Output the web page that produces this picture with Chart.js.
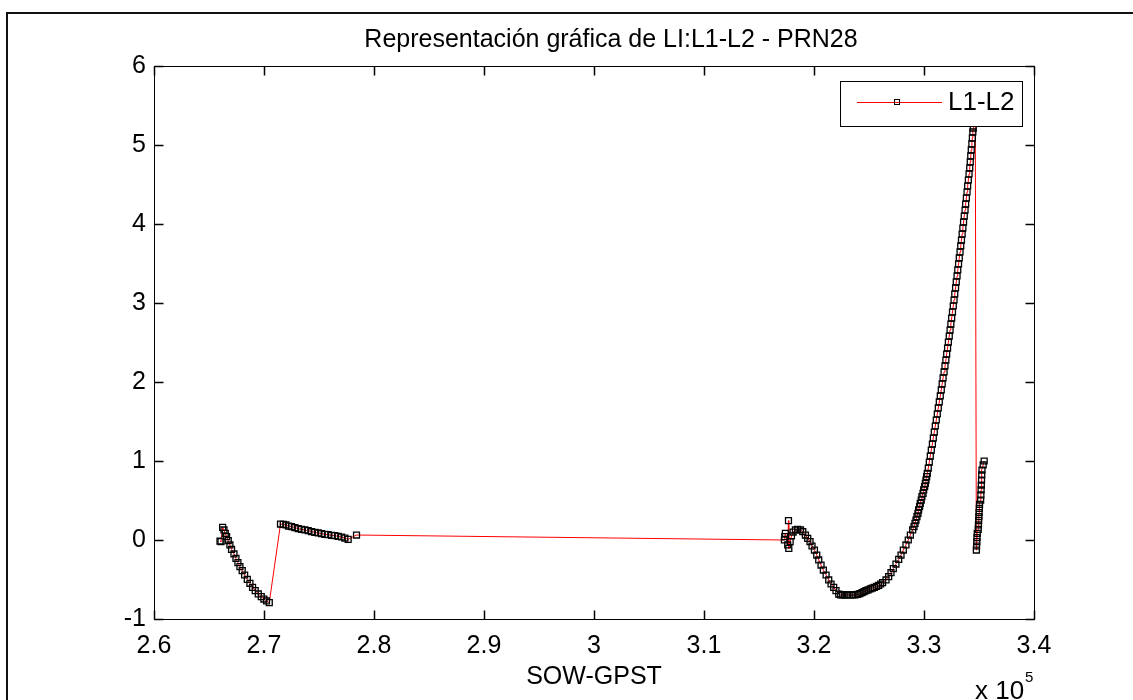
<!DOCTYPE html>
<html>
<head>
<meta charset="utf-8">
<title>LI:L1-L2 - PRN28</title>
<script src="https://cdn.jsdelivr.net/npm/chart.js@4.4.0/dist/chart.umd.min.js"></script>
<style>
  html, body { margin: 0; padding: 0; background: #fff; }
</style>
</head>
<body>
<canvas id="grafico" width="1133" height="700"></canvas>
<script>
const titulo = "Representación gráfica de LI:L1-L2 - PRN28";
const etiquetaX = "SOW-GPST";
const nombreSerie = "L1-L2";
const fuente = '"Liberation Sans", Arial, sans-serif';

// ticks (x en segundos, se muestran en unidades de 10^5)
const xTicks = [260000, 270000, 280000, 290000, 300000, 310000, 320000, 330000, 340000];
const yTicks = [-1, 0, 1, 2, 3, 4, 5, 6];

// arco 1
const arco1Sow = [266000, 266090, 266240, 266360, 266480, 266600, 266750, 266900, 267050, 267270, 267450, 267630,
    267810, 268020, 268240, 268480, 268720, 268960, 269200, 269480, 269750, 269990, 270230, 270480];
const arco1Li = [-0.013, -0.021, 0.160, 0.127, 0.084, 0.042, -0.008, -0.063, -0.118, -0.177, -0.232, -0.287,
    -0.337, -0.388, -0.443, -0.498, -0.548, -0.599, -0.641, -0.683, -0.717, -0.747, -0.772, -0.793];

// arco 2
const arco2Sow = [271500, 271750, 271990, 272230, 272500, 272810, 273110, 273410, 273720, 274020, 274320, 274620,
    274930, 275230, 275530, 275830, 276140, 276440, 276740, 277050, 277350, 277650, 278410];
const arco2Li = [0.202, 0.198, 0.190, 0.177, 0.169, 0.156, 0.143, 0.135, 0.127, 0.118, 0.105, 0.097,
    0.089, 0.080, 0.072, 0.068, 0.059, 0.055, 0.046, 0.038, 0.025, 0.008, 0.063];

// arco 3 (tramo bajo)
const arco3Sow = [317310, 317340, 317400, 317610, 317680, 317710, 317830, 317950, 318100, 318310, 318520, 318770,
    318980, 319220, 319430, 319640, 319820, 320040, 320250, 320430, 320640, 320850, 321100, 321340,
    321550, 321790, 322000, 322250, 322430, 322610, 322820, 323060, 323270, 323520, 323730, 323970,
    324170, 324370, 324550, 324730, 324920, 325120, 325300, 325490, 325690, 325880, 326060, 326240,
    326550, 326790, 327000, 327210, 327450, 327700, 327910, 328120, 328360, 328570, 328760, 328970,
    329090, 329180, 329270, 329360, 329450, 329510, 329600, 329660, 329750, 329810, 329910, 329970,
    330060, 330120, 330180, 330240, 330300];
const arco3Li = [0.000, 0.042, 0.084, -0.063, 0.245, -0.106, -0.021, 0.051, 0.101, 0.127, 0.135, 0.127,
    0.105, 0.063, 0.021, -0.021, -0.076, -0.127, -0.190, -0.253, -0.317, -0.380, -0.443, -0.506,
    -0.557, -0.599, -0.641, -0.684, -0.696, -0.696, -0.696, -0.696, -0.696, -0.696, -0.696, -0.688,
    -0.678, -0.667, -0.654, -0.641, -0.631, -0.620, -0.610, -0.599, -0.587, -0.574, -0.557, -0.540,
    -0.506, -0.464, -0.414, -0.363, -0.304, -0.245, -0.190, -0.127, -0.063, 0.000, 0.063, 0.127,
    0.169, 0.211, 0.253, 0.295, 0.338, 0.380, 0.422, 0.464, 0.506, 0.549, 0.591, 0.633,
    0.675, 0.717, 0.759, 0.802, 0.844];

// arco 3 (subida)
const arco3bSow = [330390, 330481, 330572, 330663, 330763, 330844, 330935, 331026, 331117, 331208, 331298, 331389,
    331480, 331571, 331653, 331734, 331825, 331907, 331989, 332061, 332143, 332216, 332297, 332370,
    332443, 332515, 332588, 332661, 332733, 332797, 332870, 332933, 333006, 333070, 333142, 333206,
    333278, 333342, 333406, 333469, 333533, 333596, 333660, 333733, 333787, 333851, 333914, 333969,
    334032, 334096, 334159, 334205, 334250, 334296, 334350, 334396, 334441, 334477, 334570, 334660];
const arco3bLi = [0.911, 0.987, 1.063, 1.139, 1.215, 1.291, 1.367, 1.443, 1.519, 1.595, 1.671, 1.747,
    1.823, 1.899, 1.975, 2.051, 2.127, 2.203, 2.278, 2.354, 2.430, 2.506, 2.582, 2.658,
    2.734, 2.810, 2.886, 2.962, 3.038, 3.114, 3.190, 3.266, 3.342, 3.418, 3.494, 3.570,
    3.646, 3.722, 3.797, 3.873, 3.949, 4.025, 4.101, 4.177, 4.253, 4.329, 4.405, 4.481,
    4.557, 4.633, 4.709, 4.785, 4.861, 4.937, 5.013, 5.089, 5.165, 5.215, 5.300, 5.420];

// arco 4
const arco4Sow = [334760, 334780, 334800, 334820, 334840, 334930, 334950, 334970, 334990, 335010, 335030, 335050,
    335150, 335170, 335190, 335210, 335230, 335250, 335270, 335380, 335470];
const arco4Li = [-0.127, -0.076, -0.021, 0.030, 0.084, 0.135, 0.190, 0.245, 0.295, 0.346, 0.401, 0.452,
    0.506, 0.570, 0.633, 0.696, 0.759, 0.823, 0.886, 0.950, 1.000];

const arcos = [
    [arco1Sow, arco1Li],
    [arco2Sow, arco2Li],
    [arco3Sow, arco3Li],
    [arco3bSow, arco3bLi],
    [arco4Sow, arco4Li],
];

const puntos = [];
for (const [sow, li] of arcos) {
    const n = Math.min(sow.length, li.length);
    for (let i = 0; i < n; i++) {
        puntos.push({ x: sow[i], y: li[i] });
    }
}

// Dibuja la caja de ejes, las marcas, los textos y la leyenda al estilo MATLAB
const marco = {
    id: 'marco',
    afterDraw(chart) {
        const c = chart.ctx;
        const a = chart.chartArea;
        const sx = chart.scales.x;
        const sy = chart.scales.y;
        c.save();

        c.strokeStyle = '#000';
        c.lineWidth = 1;
        const l = Math.round(a.left) + 0.5, t = Math.round(a.top) + 0.5;
        const r = Math.round(a.right) + 0.5, b = Math.round(a.bottom) + 0.5;
        c.strokeRect(l, t, r - l, b - t);

        c.lineWidth = 1.5;
        c.beginPath();
        for (const v of xTicks) {
            const p = Math.round(sx.getPixelForValue(v)) + 0.5;
            c.moveTo(p, b); c.lineTo(p, b - 9);
            c.moveTo(p, t); c.lineTo(p, t + 9);
        }
        for (const v of yTicks) {
            const p = Math.round(sy.getPixelForValue(v)) + 0.5;
            c.moveTo(l, p); c.lineTo(l + 9, p);
            c.moveTo(r, p); c.lineTo(r - 9, p);
        }
        c.stroke();

        // textos
        c.fillStyle = '#000';
        c.textBaseline = 'alphabetic';
        c.textAlign = 'center';
        c.font = '25px ' + fuente;
        c.fillText(titulo, 611, 47);
        c.fillText(etiquetaX, (a.left + a.right) / 2, 684);
        c.textAlign = 'left';
        c.font = '26px ' + fuente;
        c.fillText('x 10', 975, 699);
        c.font = '15px ' + fuente;
        c.fillText('5', 1025, 682);

        // leyenda
        c.lineWidth = 1;
        c.fillStyle = '#fff';
        c.fillRect(840, 81, 183, 46);
        c.strokeStyle = '#000';
        c.strokeRect(840.5, 81.5, 182, 45);
        c.strokeStyle = '#ff0000';
        c.beginPath();
        c.moveTo(857, 102.5); c.lineTo(942, 102.5);
        c.stroke();
        c.strokeStyle = '#000';
        c.strokeRect(894.5, 99.5, 5, 5);
        c.fillStyle = '#000';
        c.font = '26px ' + fuente;
        c.textBaseline = 'middle';
        c.fillText(nombreSerie, 948, 103);

        // marco de la figura
        c.lineWidth = 2;
        c.strokeStyle = '#111';
        c.beginPath();
        c.moveTo(7, 700); c.lineTo(7, 13); c.lineTo(1133, 13);
        c.stroke();
        c.restore();
    }
};

new Chart(document.getElementById('grafico'), {
    type: 'scatter',
    data: {
        datasets: [{
            label: nombreSerie,
            data: puntos,
            showLine: true,
            borderColor: '#ff0000',
            borderWidth: 1,
            pointStyle: 'rect',
            pointRadius: 4.2,
            pointBorderColor: '#000',
            pointBackgroundColor: 'rgba(0,0,0,0)',
            pointBorderWidth: 1.3,
            tension: 0,
        }],
    },
    options: {
        responsive: false,
        animation: false,
        layout: { padding: { top: 66, right: 99, left: 0, bottom: 0 } },
        plugins: {
            legend: { display: false },
            tooltip: { enabled: false },
            title: { display: false },
        },
        scales: {
            x: {
                type: 'linear',
                min: 260000,
                max: 340000,
                afterBuildTicks: s => { s.ticks = xTicks.map(v => ({ value: v })); },
                afterFit: s => { s.height = 81; },
                grid: { display: false, drawTicks: false },
                border: { display: false },
                ticks: {
                    padding: 12,
                    color: '#000',
                    font: { family: fuente, size: 25 },
                    maxRotation: 0,
                    autoSkip: false,
                    callback: v => String(parseFloat((v / 1e5).toFixed(1))),
                },
            },
            y: {
                type: 'linear',
                min: -1,
                max: 6,
                afterBuildTicks: s => { s.ticks = yTicks.map(v => ({ value: v })); },
                afterFit: s => { s.width = 154; },
                grid: { display: false, drawTicks: false },
                border: { display: false },
                ticks: {
                    padding: 8,
                    color: '#000',
                    font: { family: fuente, size: 25 },
                    autoSkip: false,
                    callback: v => String(v),
                },
            },
        },
    },
    plugins: [marco],
});
</script>
</body>
</html>
